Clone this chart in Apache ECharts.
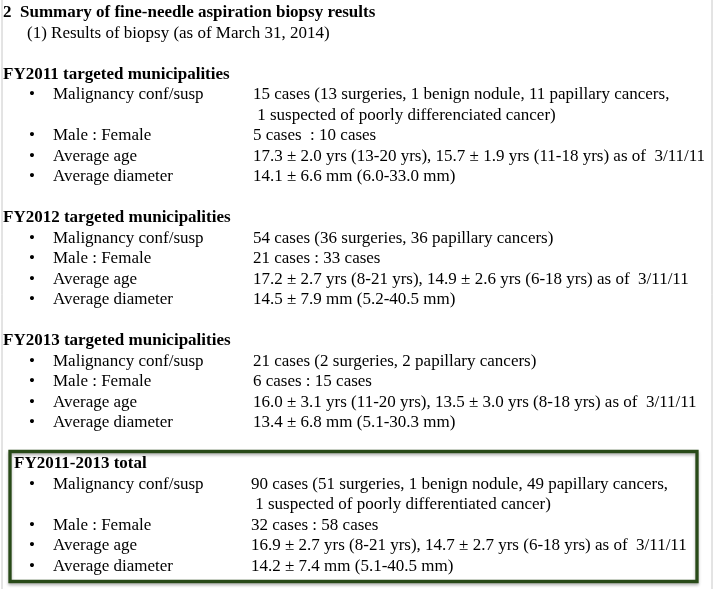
<!DOCTYPE html>
<html style="width:100%;height:100%;">
<head>
<meta charset="UTF-8">
<title>Fine-needle aspiration biopsy results</title>
<script src="https://cdn.jsdelivr.net/npm/echarts@6/dist/echarts.min.js"></script>
</head>
<body style="width:100%;height:100%;margin:0;padding:0;background:#fff;">
<div id="main" style="width:714px;height:589px;"></div>
<script>
// 标题文字
var titleText = '2  Summary of fine-needle aspiration biopsy results';
var subTitleText = '(1) Results of biopsy (as of March 31, 2014)';

// 各年度的小标题
var sectionNames = ['FY2011 targeted municipalities', 'FY2012 targeted municipalities', 'FY2013 targeted municipalities', 'FY2011-2013 total'];
// 每一项的名称
var itemLabels = ['Malignancy conf/susp', 'Male : Female', 'Average age', 'Average diameter'];

// 每一项的数值（数组里有两行的表示换行）
var fy2011Values = [
	['15 cases (13 surgeries, 1 benign nodule, 11 papillary cancers,', ' 1 suspected of poorly differenciated cancer)'],
	['5 cases  : 10 cases'],
	['17.3 ± 2.0 yrs (13-20 yrs), 15.7 ± 1.9 yrs (11-18 yrs) as of  3/11/11'],
	['14.1 ± 6.6 mm (6.0-33.0 mm)']
];
var fy2012Values = [
	['54 cases (36 surgeries, 36 papillary cancers)'],
	['21 cases : 33 cases'],
	['17.2 ± 2.7 yrs (8-21 yrs), 14.9 ± 2.6 yrs (6-18 yrs) as of  3/11/11'],
	['14.5 ± 7.9 mm (5.2-40.5 mm)']
];
var fy2013Values = [
	['21 cases (2 surgeries, 2 papillary cancers)'],
	['6 cases : 15 cases'],
	['16.0 ± 3.1 yrs (11-20 yrs), 13.5 ± 3.0 yrs (8-18 yrs) as of  3/11/11'],
	['13.4 ± 6.8 mm (5.1-30.3 mm)']
];
var totalValues = [
	['90 cases (51 surgeries, 1 benign nodule, 49 papillary cancers,', ' 1 suspected of poorly differentiated cancer)'],
	['32 cases : 58 cases'],
	['16.9 ± 2.7 yrs (8-21 yrs), 14.7 ± 2.7 yrs (6-18 yrs) as of  3/11/11'],
	['14.2 ± 7.4 mm (5.1-40.5 mm)']
];
var sectionValues = [fy2011Values, fy2012Values, fy2013Values, totalValues];

var FONT = '"Liberation Serif", "Times New Roman", serif';
var LINE = 20.5;

// 生成文字
var elements = [];
function addText(x, y, text, bold) {
	elements.push({
		type: 'text',
		x: x,
		y: y,
		z: 5,
		style: {
			text: text,
			fill: '#000',
			font: (bold ? 'bold ' : '') + '17px ' + FONT,
			verticalAlign: 'middle',
			align: 'left'
		}
	});
}

var y = 13;
addText(3, y, titleText, true);
y += LINE;
addText(27, y, subTitleText, false);
y += LINE * 2;

for (var s = 0; s < sectionNames.length; s++) {
	var isTotal = s === sectionNames.length - 1;
	if (isTotal) {
		// 汇总的边框
		elements.push({
			type: 'rect',
			shape: { x: 10, y: 451.5, width: 687, height: 130 },
			style: { fill: 'none', stroke: '#284a18', lineWidth: 3.3, shadowBlur: 3, shadowColor: 'rgba(0,0,0,0.3)', shadowOffsetX: 0, shadowOffsetY: 2 },
			z: 1
		});
	}
	addText(isTotal ? 14 : 3, y, sectionNames[s], true);
	y += LINE;
	var vals = sectionValues[s];
	for (var i = 0; i < itemLabels.length; i++) {
		addText(29, y, '•', false);
		addText(53, y, itemLabels[i], false);
		var vx = isTotal ? 251 : 253;
		for (var k = 0; k < vals[i].length; k++) {
			addText(vx, y, vals[i][k], false);
			y += LINE;
		}
	}
	y += LINE;
}

// 左右两侧的灰线
elements.push({ type: 'line', shape: { x1: 2, y1: 0, x2: 2, y2: 589 }, style: { stroke: '#c8c8c8', lineWidth: 1 } });
elements.push({ type: 'line', shape: { x1: 712, y1: 0, x2: 712, y2: 589 }, style: { stroke: '#c8c8c8', lineWidth: 1 } });

var myChart = echarts.init(document.getElementById('main'));
myChart.setOption({
	backgroundColor: '#fff',
	animation: false,
	graphic: { elements: elements }
});
</script>
</body>
</html>
